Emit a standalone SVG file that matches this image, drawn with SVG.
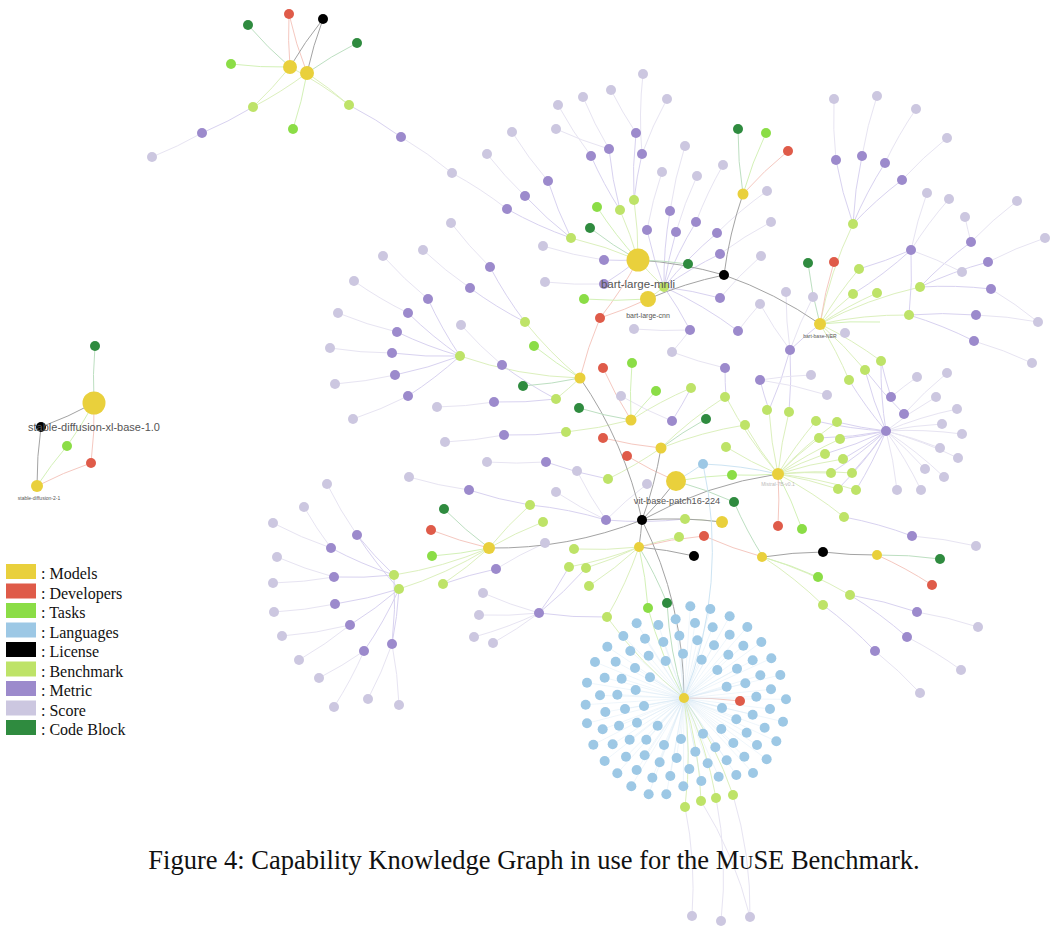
<svg xmlns="http://www.w3.org/2000/svg" width="1050" height="928" viewBox="0 0 1050 928">
<style>
.M{fill:#E9D03C}.D{fill:#DF5B49}.T{fill:#8BDD46}.G{fill:#9DC8E5}.L{fill:#000}.B{fill:#BEE368}.E{fill:#9C8ACC}.S{fill:#CCC7E0}.C{fill:#2F8B3F}
.e path{fill:none;stroke-width:1}
.eb{stroke:#dcf0bd}.em{stroke:#d8d2f0}.es{stroke:#e7e4f2}.ed{stroke:#f5c8c0}.el{stroke:#a3a3a3}.ec{stroke:#bddfc1}.et{stroke:#d3f1b7}.eg{stroke:#cde4f3}
.lbl{font-family:"Liberation Sans",Arial,sans-serif;fill:#555;text-anchor:middle}
.leg{font-family:"Liberation Serif","Times New Roman",serif;font-size:16px;fill:#111}
.cap{font-family:"Liberation Serif","Times New Roman",serif;font-size:26.5px;fill:#111}
</style>
<rect width="1050" height="928" fill="#fff"/>
<g id="connectors" class="e">
<path class="eb" d="M290 67A400 400 0 0 1 253 107M307 73A400 400 0 0 1 253 107M290 67A400 400 0 0 1 349 105M307 73A400 400 0 0 1 349 105M571 238A400 400 0 0 1 638 260M620 210A400 400 0 0 1 638 260M634 200A400 400 0 0 1 638 260M664 287A400 400 0 0 1 638 260M664 287A400 400 0 0 1 648 299M820 324A400 400 0 0 1 853 224M820 324A400 400 0 0 1 859 269M820 324A400 400 0 0 1 853 294M820 324A400 400 0 0 1 877 293M820 324A400 400 0 0 1 920 287M820 324A400 400 0 0 1 909 315M820 324A400 400 0 0 1 881 361M820 324A400 400 0 0 1 865 370M820 324A400 400 0 0 1 849 380M580 378A400 400 0 0 1 460 356M580 378A400 400 0 0 1 525 322M580 378A400 400 0 0 1 556 399M631 420A400 400 0 0 1 566 432M631 420A400 400 0 0 1 691 388M661 448A400 400 0 0 1 608 479M661 448A400 400 0 0 1 745 425M661 448A400 400 0 0 1 725 397M778 474A400 400 0 0 1 816 421M778 474A400 400 0 0 1 837 422M778 474A400 400 0 0 1 819 438M778 474A400 400 0 0 1 840 439M778 474A400 400 0 0 1 825 454M778 474A400 400 0 0 1 843 459M778 474A400 400 0 0 1 831 473M778 474A400 400 0 0 1 852 473M778 474A400 400 0 0 1 838 489M778 474A400 400 0 0 1 856 490M778 474A400 400 0 0 1 844 517M778 474A400 400 0 0 1 726 397M778 474A400 400 0 0 1 769 410M778 474A400 400 0 0 1 789 412M778 474A400 400 0 0 1 745 425M778 474A400 400 0 0 1 726 447M685 519A400 400 0 0 1 722 522M639 547A400 400 0 0 1 679 537M639 547A400 400 0 0 1 574 549M639 547A400 400 0 0 1 569 567M639 547A400 400 0 0 1 586 568M639 547A400 400 0 0 1 589 586M639 547A400 400 0 0 1 607 617M489 548A400 400 0 0 1 443 584M489 548A400 400 0 0 1 394 575M489 548A400 400 0 0 1 399 589M489 548A400 400 0 0 1 543 522M489 548A400 400 0 0 1 530 505M763 557A400 400 0 0 1 850 595M763 557A400 400 0 0 1 823 605M684 698A400 400 0 0 1 685 807M684 698A400 400 0 0 1 701 801M684 698A400 400 0 0 1 716 798M684 698A400 400 0 0 1 733 795M684 698A400 400 0 0 1 607 617"/>
<path class="em" d="M253 107A400 400 0 0 1 202 133M349 105A400 400 0 0 1 401 137M571 238A400 400 0 0 1 548 181M571 238A400 400 0 0 1 525 196M571 238A400 400 0 0 1 507 209M620 210A400 400 0 0 1 591 156M620 210A400 400 0 0 1 609 149M634 200A400 400 0 0 1 636 133M634 200A400 400 0 0 1 642 154M638 260A400 400 0 0 1 604 260M638 260A400 400 0 0 1 604 284M664 287A400 400 0 0 1 670 211M664 287A400 400 0 0 1 647 230M664 287A400 400 0 0 1 676 232M664 287A400 400 0 0 1 696 222M664 287A400 400 0 0 1 717 233M664 287A400 400 0 0 1 720 254M664 287A400 400 0 0 1 720 298M664 287A400 400 0 0 1 690 330M664 287A400 400 0 0 1 738 331M853 224A400 400 0 0 1 836 160M853 224A400 400 0 0 1 862 156M853 224A400 400 0 0 1 885 163M853 224A400 400 0 0 1 902 180M911 250A400 400 0 0 1 859 269M911 250A400 400 0 0 1 853 294M911 250A400 400 0 0 1 909 315M920 287A400 400 0 0 1 971 242M920 287A400 400 0 0 1 988 262M920 287A400 400 0 0 1 991 289M909 315A400 400 0 0 1 976 315M909 315A400 400 0 0 1 974 341M790 350A400 400 0 0 1 820 324M790 350A400 400 0 0 1 769 410M790 350A400 400 0 0 1 789 412M460 356A400 400 0 0 1 428 299M460 356A400 400 0 0 1 408 313M460 356A400 400 0 0 1 397 332M460 356A400 400 0 0 1 392 353M460 356A400 400 0 0 1 395 375M460 356A400 400 0 0 1 408 396M525 322A400 400 0 0 1 490 267M525 322A400 400 0 0 1 470 288M556 399A400 400 0 0 1 502 365M556 399A400 400 0 0 1 494 402M566 432A400 400 0 0 1 504 435M608 479A400 400 0 0 1 546 462M530 505A400 400 0 0 1 469 490M530 505A400 400 0 0 1 606 520M685 519A400 400 0 0 1 606 520M691 388A400 400 0 0 1 672 421M726 397A400 400 0 0 1 725 368M769 410A400 400 0 0 1 760 380M886 431A400 400 0 0 1 816 421M886 431A400 400 0 0 1 837 422M886 431A400 400 0 0 1 819 438M886 431A400 400 0 0 1 840 439M886 431A400 400 0 0 1 825 454M886 431A400 400 0 0 1 843 459M886 431A400 400 0 0 1 831 473M886 431A400 400 0 0 1 852 473M886 431A400 400 0 0 1 838 489M886 431A400 400 0 0 1 856 490M886 431A400 400 0 0 1 881 361M886 431A400 400 0 0 1 865 370M886 431A400 400 0 0 1 849 380M891 397A400 400 0 0 1 881 361M904 414A400 400 0 0 1 865 370M844 517A400 400 0 0 1 912 536M850 595A400 400 0 0 1 917 612M850 595A400 400 0 0 1 907 637M823 605A400 400 0 0 1 875 651M394 575A400 400 0 0 1 357 535M394 575A400 400 0 0 1 331 548M394 575A400 400 0 0 1 334 577M399 589A400 400 0 0 1 335 604M399 589A400 400 0 0 1 350 625M399 589A400 400 0 0 1 392 644M399 589A400 400 0 0 1 364 651M399 589A400 400 0 0 1 357 535M394 575A400 400 0 0 1 392 644M443 584A400 400 0 0 1 496 569M569 567A400 400 0 0 1 539 613M586 568A400 400 0 0 1 539 613M607 617A400 400 0 0 1 539 613"/>
<path class="es" d="M202 133A400 400 0 0 1 152 157M401 137A400 400 0 0 1 452 173M452 173A400 400 0 0 1 507 209M525 196A400 400 0 0 1 487 154M548 181A400 400 0 0 1 512 132M591 156A400 400 0 0 1 558 105M609 149A400 400 0 0 1 583 97M609 149A400 400 0 0 1 556 129M636 133A400 400 0 0 1 611 90M642 154A400 400 0 0 1 643 74M642 154A400 400 0 0 1 667 99M604 260A400 400 0 0 1 543 246M604 284A400 400 0 0 1 545 282M670 211A400 400 0 0 1 685 146M647 230A400 400 0 0 1 662 172M676 232A400 400 0 0 1 697 176M696 222A400 400 0 0 1 723 165M717 233A400 400 0 0 1 767 191M720 254A400 400 0 0 1 771 222M720 298A400 400 0 0 1 761 256M690 330A400 400 0 0 1 634 329M738 331A400 400 0 0 1 760 304M690 330A400 400 0 0 1 672 352M836 160A400 400 0 0 1 834 99M862 156A400 400 0 0 1 877 96M885 163A400 400 0 0 1 916 109M902 180A400 400 0 0 1 947 138M911 250A400 400 0 0 1 927 193M911 250A400 400 0 0 1 949 199M911 250A400 400 0 0 1 962 272M971 242A400 400 0 0 1 1017 201M971 242A400 400 0 0 1 965 217M988 262A400 400 0 0 1 1045 238M991 289A400 400 0 0 1 1038 322M974 341A400 400 0 0 1 1032 363M976 315A400 400 0 0 1 1038 322M790 350A400 400 0 0 1 786 292M790 350A400 400 0 0 1 760 304M790 350A400 400 0 0 1 813 297M428 299A400 400 0 0 1 383 256M408 313A400 400 0 0 1 354 281M397 332A400 400 0 0 1 338 313M392 353A400 400 0 0 1 330 348M395 375A400 400 0 0 1 335 384M408 396A400 400 0 0 1 353 419M490 267A400 400 0 0 1 451 223M470 288A400 400 0 0 1 423 250M502 365A400 400 0 0 1 461 325M494 402A400 400 0 0 1 437 407M504 435A400 400 0 0 1 445 442M546 462A400 400 0 0 1 487 462M469 490A400 400 0 0 1 409 477M606 520A400 400 0 0 1 556 492M606 520A400 400 0 0 1 577 471M496 569A400 400 0 0 1 545 543M760 380A400 400 0 0 1 811 375M760 380A400 400 0 0 1 827 395M886 431A400 400 0 0 1 936 397M886 431A400 400 0 0 1 957 409M886 431A400 400 0 0 1 942 424M886 431A400 400 0 0 1 962 434M886 431A400 400 0 0 1 940 448M886 431A400 400 0 0 1 958 458M886 431A400 400 0 0 1 925 469M886 431A400 400 0 0 1 944 477M886 431A400 400 0 0 1 897 490M886 431A400 400 0 0 1 921 490M891 397A400 400 0 0 1 917 377M904 414A400 400 0 0 1 947 373M912 536A400 400 0 0 1 976 546M917 612A400 400 0 0 1 978 627M907 637A400 400 0 0 1 961 670M875 651A400 400 0 0 1 920 693M357 535A400 400 0 0 1 327 484M331 548A400 400 0 0 1 304 507M331 548A400 400 0 0 1 273 523M334 577A400 400 0 0 1 277 557M334 577A400 400 0 0 1 273 583M335 604A400 400 0 0 1 274 612M350 625A400 400 0 0 1 282 636M350 625A400 400 0 0 1 299 660M364 651A400 400 0 0 1 319 678M364 651A400 400 0 0 1 334 707M392 644A400 400 0 0 1 368 699M392 644A400 400 0 0 1 399 705M539 613A400 400 0 0 1 483 593M539 613A400 400 0 0 1 479 615M539 613A400 400 0 0 1 474 637M539 613A400 400 0 0 1 493 643M685 807A400 400 0 0 1 692 916M716 798A400 400 0 0 1 721 921M733 795A400 400 0 0 1 750 917M701 801A400 400 0 0 1 750 917M606 520A400 400 0 0 1 647 484M672 421A400 400 0 0 1 621 396M725 368A400 400 0 0 1 672 352"/>
<path class="ed" d="M290 67A400 400 0 0 1 289 14M307 73A400 400 0 0 1 289 14M94 403A400 400 0 0 1 91 463M37 486A400 400 0 0 1 91 463M743 194A400 400 0 0 1 788 151M820 324A400 400 0 0 1 834 262M638 260A400 400 0 0 1 600 318M648 299A400 400 0 0 1 600 318M580 378A400 400 0 0 1 600 318M631 420A400 400 0 0 1 603 368M661 448A400 400 0 0 1 603 438M676 481A400 400 0 0 1 627 456M489 548A400 400 0 0 1 431 530M639 547A400 400 0 0 1 704 536M763 557A400 400 0 0 1 704 536M778 474A400 400 0 0 1 778 526M877 555A400 400 0 0 1 932 585M684 698A400 400 0 0 1 740 701"/>
<path class="el" d="M290 67A400 400 0 0 1 323 19M307 73A400 400 0 0 1 323 19M94 403A400 400 0 0 1 41 427M37 486A400 400 0 0 1 41 427M638 260A400 400 0 0 1 724 275M648 299A400 400 0 0 1 724 275M724 275A400 400 0 0 1 743 194M724 275A400 400 0 0 1 820 324M580 378A400 400 0 0 1 642 520M661 448A400 400 0 0 1 642 520M676 481A400 400 0 0 1 642 520M642 520A400 400 0 0 1 489 548M642 520A400 400 0 0 1 778 474M642 520A400 400 0 0 1 684 698M639 547A400 400 0 0 1 694 556M763 557A400 400 0 0 1 823 552M877 555A400 400 0 0 1 823 552M642 520A400 400 0 0 1 722 522M642 520A400 400 0 0 1 639 547"/>
<path class="ec" d="M290 67A400 400 0 0 1 248 25M307 73A400 400 0 0 1 357 43M94 403A400 400 0 0 1 95 346M743 194A400 400 0 0 1 738 129M638 260A400 400 0 0 1 590 228M638 260A400 400 0 0 1 688 264M820 324A400 400 0 0 1 808 263M580 378A400 400 0 0 1 523 386M631 420A400 400 0 0 1 579 408M661 448A400 400 0 0 1 706 419M676 481A400 400 0 0 1 734 502M763 557A400 400 0 0 1 734 502M489 548A400 400 0 0 1 444 509M639 547A400 400 0 0 1 667 603M877 555A400 400 0 0 1 940 559M684 698A400 400 0 0 1 667 603"/>
<path class="et" d="M290 67A400 400 0 0 1 231 64M307 73A400 400 0 0 1 293 129M94 403A400 400 0 0 1 67 446M37 486A400 400 0 0 1 67 446M743 194A400 400 0 0 1 766 133M638 260A400 400 0 0 1 597 207M648 299A400 400 0 0 1 584 299M820 324A400 400 0 0 1 880 322M580 378A400 400 0 0 1 534 346M631 420A400 400 0 0 1 632 363M631 420A400 400 0 0 1 656 391M676 481A400 400 0 0 1 732 475M778 474A400 400 0 0 1 732 475M489 548A400 400 0 0 1 432 556M778 474A400 400 0 0 1 802 529M763 557A400 400 0 0 1 818 577M639 547A400 400 0 0 1 648 608M684 698A400 400 0 0 1 648 608"/>
<path class="eg" d="M703 464A400 400 0 0 1 778 474M703 464A400 400 0 0 1 676 481M703 464A400 400 0 0 1 684 698"/>
<g transform="translate(560 590) scale(0.33333)"><path class="eg" stroke-width="3" d="M372 325L391 49M372 325L451 57M372 325L509 79M372 325L230 100M372 325L295 105M372 325L347 88M372 325L405 99M372 325L458 112M372 325L562 111M372 325L190 138M372 325L255 146M372 325L310 156M372 325L358 137M372 325L412 151M372 325L462 166M372 325L509 134M372 325L550 167M372 325L604 156M372 325L142 170M372 325L211 183M372 325L266 197M372 325L317 213M372 325L369 191M372 325L425 209M372 325L472 240M372 325L505 194M372 325L531 236M372 325L578 211M372 325L634 205M372 325L105 216M372 325L167 215M372 325L225 234M372 325L270 262M372 325L500 290M372 325L556 280M372 325L601 256M372 325L661 255M372 325L81 278M372 325L134 263M372 325L185 266M372 325L227 300M372 325L633 298M372 325L120 316M372 325L172 314M372 325L252 348M372 325L486 354M372 325L589 320M372 325L678 328M372 325L77 344M372 325L136 366M372 325L195 357M372 325L578 374M372 325L630 357M372 325L529 388M372 325L81 400M372 325L128 418M372 325L177 407M372 325L231 398M372 325L293 407M372 325L484 417M372 325L560 428M372 325L614 413M372 325L669 395M372 325L100 464M372 325L158 463M372 325L209 449M372 325L259 449M372 325L363 447M372 325L429 431M372 325L520 459M372 325L591 465M372 325L649 454M372 325L134 513M372 325L198 500M372 325L254 496M372 325L312 465M372 325L350 504M372 325L406 485M372 325L466 472M372 325L500 511M372 325L553 500M372 325L620 508M372 325L172 550M372 325L230 540M372 325L277 563M372 325L299 517M372 325L331 558M372 325L388 537M372 325L443 520M372 325L476 560M372 325L529 555M372 325L579 549M372 325L214 589M372 325L266 613M372 325L319 613M372 325L370 589M372 325L424 573"/></g>
</g>
<g id="nodes">
<g id="scores">
<circle id="s1" class="S" cx="152" cy="157" r="5"/><circle id="s2" class="S" cx="452" cy="173" r="5"/><circle id="s3" class="S" cx="487" cy="154" r="5"/><circle id="s4" class="S" cx="512" cy="132" r="5"/><circle id="s5" class="S" cx="451" cy="223" r="5"/><circle id="s6" class="S" cx="423" cy="250" r="5"/><circle id="s7" class="S" cx="383" cy="256" r="5"/><circle id="s8" class="S" cx="354" cy="281" r="5"/><circle id="s9" class="S" cx="338" cy="313" r="5"/><circle id="s10" class="S" cx="330" cy="348" r="5"/><circle id="s11" class="S" cx="335" cy="384" r="5"/><circle id="s12" class="S" cx="353" cy="419" r="5"/><circle id="s13" class="S" cx="461" cy="325" r="5"/><circle id="s14" class="S" cx="543" cy="246" r="5"/><circle id="s15" class="S" cx="545" cy="282" r="5"/><circle id="s16" class="S" cx="556" cy="129" r="5"/><circle id="s17" class="S" cx="558" cy="105" r="5"/><circle id="s18" class="S" cx="583" cy="97" r="5"/><circle id="s19" class="S" cx="611" cy="90" r="5"/><circle id="s20" class="S" cx="643" cy="74" r="5"/><circle id="s21" class="S" cx="667" cy="99" r="5"/><circle id="s22" class="S" cx="685" cy="146" r="5"/><circle id="s23" class="S" cx="662" cy="172" r="5"/><circle id="s24" class="S" cx="697" cy="176" r="5"/><circle id="s25" class="S" cx="723" cy="165" r="5"/><circle id="s26" class="S" cx="767" cy="191" r="5"/><circle id="s27" class="S" cx="771" cy="222" r="5"/><circle id="s28" class="S" cx="761" cy="256" r="5"/><circle id="s29" class="S" cx="786" cy="292" r="5"/><circle id="s30" class="S" cx="760" cy="304" r="5"/><circle id="s31" class="S" cx="813" cy="297" r="5"/><circle id="s32" class="S" cx="845" cy="333" r="5"/><circle id="s33" class="S" cx="634" cy="329" r="5"/><circle id="s34" class="S" cx="672" cy="352" r="5"/><circle id="s35" class="S" cx="437" cy="407" r="5"/><circle id="s36" class="S" cx="445" cy="442" r="5"/><circle id="s37" class="S" cx="487" cy="462" r="5"/><circle id="s38" class="S" cx="409" cy="477" r="5"/><circle id="s39" class="S" cx="556" cy="492" r="5"/><circle id="s40" class="S" cx="577" cy="471" r="5"/><circle id="s41" class="S" cx="621" cy="396" r="5"/><circle id="s42" class="S" cx="647" cy="484" r="5"/><circle id="s43" class="S" cx="545" cy="543" r="5"/><circle id="s44" class="S" cx="834" cy="99" r="5"/><circle id="s45" class="S" cx="877" cy="96" r="5"/><circle id="s46" class="S" cx="916" cy="109" r="5"/><circle id="s47" class="S" cx="947" cy="138" r="5"/><circle id="s48" class="S" cx="927" cy="193" r="5"/><circle id="s49" class="S" cx="949" cy="199" r="5"/><circle id="s50" class="S" cx="965" cy="217" r="5"/><circle id="s51" class="S" cx="1017" cy="201" r="5"/><circle id="s52" class="S" cx="1045" cy="238" r="5"/><circle id="s53" class="S" cx="962" cy="272" r="5"/><circle id="s54" class="S" cx="1038" cy="322" r="5"/><circle id="s55" class="S" cx="1032" cy="363" r="5"/><circle id="s56" class="S" cx="811" cy="375" r="5"/><circle id="s57" class="S" cx="827" cy="395" r="5"/><circle id="s58" class="S" cx="917" cy="377" r="5"/><circle id="s59" class="S" cx="947" cy="373" r="5"/><circle id="s60" class="S" cx="936" cy="397" r="5"/><circle id="s61" class="S" cx="957" cy="409" r="5"/><circle id="s62" class="S" cx="942" cy="424" r="5"/><circle id="s63" class="S" cx="962" cy="434" r="5"/><circle id="s64" class="S" cx="940" cy="448" r="5"/><circle id="s65" class="S" cx="958" cy="458" r="5"/><circle id="s66" class="S" cx="925" cy="469" r="5"/><circle id="s67" class="S" cx="944" cy="477" r="5"/><circle id="s68" class="S" cx="897" cy="490" r="5"/><circle id="s69" class="S" cx="921" cy="490" r="5"/><circle id="s70" class="S" cx="976" cy="546" r="5"/><circle id="s71" class="S" cx="978" cy="627" r="5"/><circle id="s72" class="S" cx="961" cy="670" r="5"/><circle id="s73" class="S" cx="920" cy="693" r="5"/><circle id="s74" class="S" cx="327" cy="484" r="5"/><circle id="s75" class="S" cx="304" cy="507" r="5"/><circle id="s76" class="S" cx="273" cy="523" r="5"/><circle id="s77" class="S" cx="277" cy="557" r="5"/><circle id="s78" class="S" cx="273" cy="583" r="5"/><circle id="s79" class="S" cx="274" cy="612" r="5"/><circle id="s80" class="S" cx="282" cy="636" r="5"/><circle id="s81" class="S" cx="299" cy="660" r="5"/><circle id="s82" class="S" cx="319" cy="678" r="5"/><circle id="s83" class="S" cx="334" cy="707" r="5"/><circle id="s84" class="S" cx="368" cy="699" r="5"/><circle id="s85" class="S" cx="399" cy="705" r="5"/><circle id="s86" class="S" cx="483" cy="593" r="5"/><circle id="s87" class="S" cx="479" cy="615" r="5"/><circle id="s88" class="S" cx="474" cy="637" r="5"/><circle id="s89" class="S" cx="493" cy="643" r="5"/><circle id="s90" class="S" cx="692" cy="916" r="5"/><circle id="s91" class="S" cx="721" cy="921" r="5"/><circle id="s92" class="S" cx="750" cy="917" r="5"/>
</g>
<g id="metrics">
<circle id="m1" class="E" cx="202" cy="133" r="5"/><circle id="m2" class="E" cx="401" cy="137" r="5"/><circle id="m3" class="E" cx="507" cy="209" r="5"/><circle id="m4" class="E" cx="525" cy="196" r="5"/><circle id="m5" class="E" cx="548" cy="181" r="5"/><circle id="m6" class="E" cx="591" cy="156" r="5"/><circle id="m7" class="E" cx="609" cy="149" r="5"/><circle id="m8" class="E" cx="636" cy="133" r="5"/><circle id="m9" class="E" cx="642" cy="154" r="5"/><circle id="m10" class="E" cx="490" cy="267" r="5"/><circle id="m11" class="E" cx="470" cy="288" r="5"/><circle id="m12" class="E" cx="428" cy="299" r="5"/><circle id="m13" class="E" cx="408" cy="313" r="5"/><circle id="m14" class="E" cx="397" cy="332" r="5"/><circle id="m15" class="E" cx="392" cy="353" r="5"/><circle id="m16" class="E" cx="395" cy="375" r="5"/><circle id="m17" class="E" cx="408" cy="396" r="5"/><circle id="m18" class="E" cx="604" cy="260" r="5"/><circle id="m19" class="E" cx="604" cy="284" r="5"/><circle id="m20" class="E" cx="670" cy="211" r="5"/><circle id="m21" class="E" cx="647" cy="230" r="5"/><circle id="m22" class="E" cx="676" cy="232" r="5"/><circle id="m23" class="E" cx="696" cy="222" r="5"/><circle id="m24" class="E" cx="717" cy="233" r="5"/><circle id="m25" class="E" cx="720" cy="254" r="5"/><circle id="m26" class="E" cx="690" cy="330" r="5"/><circle id="m27" class="E" cx="738" cy="331" r="5"/><circle id="m28" class="E" cx="720" cy="298" r="5"/><circle id="m29" class="E" cx="725" cy="368" r="5"/><circle id="m30" class="E" cx="760" cy="380" r="5"/><circle id="m31" class="E" cx="502" cy="365" r="5"/><circle id="m32" class="E" cx="494" cy="402" r="5"/><circle id="m33" class="E" cx="504" cy="435" r="5"/><circle id="m34" class="E" cx="546" cy="462" r="5"/><circle id="m35" class="E" cx="469" cy="490" r="5"/><circle id="m36" class="E" cx="606" cy="520" r="5"/><circle id="m37" class="E" cx="672" cy="421" r="5"/><circle id="m38" class="E" cx="836" cy="160" r="5"/><circle id="m39" class="E" cx="862" cy="156" r="5"/><circle id="m40" class="E" cx="885" cy="163" r="5"/><circle id="m41" class="E" cx="902" cy="180" r="5"/><circle id="m42" class="E" cx="911" cy="250" r="5"/><circle id="m43" class="E" cx="971" cy="242" r="5"/><circle id="m44" class="E" cx="988" cy="262" r="5"/><circle id="m45" class="E" cx="991" cy="289" r="5"/><circle id="m46" class="E" cx="976" cy="315" r="5"/><circle id="m47" class="E" cx="974" cy="341" r="5"/><circle id="m48" class="E" cx="790" cy="350" r="5"/><circle id="m49" class="E" cx="886" cy="431" r="5"/><circle id="m50" class="E" cx="891" cy="397" r="5"/><circle id="m51" class="E" cx="904" cy="414" r="5"/><circle id="m52" class="E" cx="912" cy="536" r="5"/><circle id="m53" class="E" cx="917" cy="612" r="5"/><circle id="m54" class="E" cx="907" cy="637" r="5"/><circle id="m55" class="E" cx="875" cy="651" r="5"/><circle id="m56" class="E" cx="357" cy="535" r="5"/><circle id="m57" class="E" cx="331" cy="548" r="5"/><circle id="m58" class="E" cx="334" cy="577" r="5"/><circle id="m59" class="E" cx="335" cy="604" r="5"/><circle id="m60" class="E" cx="350" cy="625" r="5"/><circle id="m61" class="E" cx="392" cy="644" r="5"/><circle id="m62" class="E" cx="364" cy="651" r="5"/><circle id="m63" class="E" cx="496" cy="569" r="5"/><circle id="m64" class="E" cx="539" cy="613" r="5"/>
</g>
<g id="benchmarks">
<circle id="b1" class="B" cx="253" cy="107" r="5"/><circle id="b2" class="B" cx="349" cy="105" r="5"/><circle id="b3" class="B" cx="571" cy="238" r="5"/><circle id="b4" class="B" cx="620" cy="210" r="5"/><circle id="b5" class="B" cx="634" cy="200" r="5"/><circle id="b6" class="B" cx="664" cy="287" r="5"/><circle id="b7" class="B" cx="525" cy="322" r="5"/><circle id="b8" class="B" cx="460" cy="356" r="5"/><circle id="b9" class="B" cx="556" cy="399" r="5"/><circle id="b10" class="B" cx="566" cy="432" r="5"/><circle id="b11" class="B" cx="691" cy="388" r="5"/><circle id="b12" class="B" cx="725" cy="397" r="5"/><circle id="b13" class="B" cx="745" cy="425" r="5"/><circle id="b14" class="B" cx="767" cy="410" r="5"/><circle id="b15" class="B" cx="789" cy="412" r="5"/><circle id="b16" class="B" cx="726" cy="447" r="5"/><circle id="b17" class="B" cx="608" cy="479" r="5"/><circle id="b18" class="B" cx="530" cy="505" r="5"/><circle id="b19" class="B" cx="543" cy="522" r="5"/><circle id="b20" class="B" cx="685" cy="519" r="5"/><circle id="b21" class="B" cx="679" cy="537" r="5"/><circle id="b22" class="B" cx="574" cy="549" r="5"/><circle id="b23" class="B" cx="569" cy="567" r="5"/><circle id="b24" class="B" cx="586" cy="568" r="5"/><circle id="b25" class="B" cx="589" cy="586" r="5"/><circle id="b26" class="B" cx="607" cy="617" r="5"/><circle id="b27" class="B" cx="394" cy="575" r="5"/><circle id="b28" class="B" cx="399" cy="589" r="5"/><circle id="b29" class="B" cx="443" cy="584" r="5"/><circle id="b30" class="B" cx="853" cy="224" r="5"/><circle id="b31" class="B" cx="859" cy="269" r="5"/><circle id="b32" class="B" cx="853" cy="294" r="5"/><circle id="b33" class="B" cx="877" cy="293" r="5"/><circle id="b34" class="B" cx="920" cy="287" r="5"/><circle id="b35" class="B" cx="909" cy="315" r="5"/><circle id="b36" class="B" cx="881" cy="361" r="5"/><circle id="b37" class="B" cx="865" cy="370" r="5"/><circle id="b38" class="B" cx="849" cy="380" r="5"/><circle id="b39" class="B" cx="816" cy="421" r="5"/><circle id="b40" class="B" cx="837" cy="422" r="5"/><circle id="b41" class="B" cx="819" cy="438" r="5"/><circle id="b42" class="B" cx="840" cy="439" r="5"/><circle id="b43" class="B" cx="825" cy="454" r="5"/><circle id="b44" class="B" cx="843" cy="459" r="5"/><circle id="b45" class="B" cx="831" cy="473" r="5"/><circle id="b46" class="B" cx="852" cy="473" r="5"/><circle id="b47" class="B" cx="838" cy="489" r="5"/><circle id="b48" class="B" cx="856" cy="490" r="5"/><circle id="b49" class="B" cx="844" cy="517" r="5"/><circle id="b50" class="B" cx="850" cy="595" r="5"/><circle id="b51" class="B" cx="823" cy="605" r="5"/><circle id="b52" class="B" cx="685" cy="807" r="5"/><circle id="b53" class="B" cx="701" cy="801" r="5"/><circle id="b54" class="B" cx="716" cy="798" r="5"/><circle id="b55" class="B" cx="733" cy="795" r="5"/>
</g>
<g id="codeblocks">
<circle id="c1" class="C" cx="248" cy="25" r="5"/><circle id="c2" class="C" cx="357" cy="43" r="5"/><circle id="c3" class="C" cx="95" cy="346" r="5"/><circle id="c4" class="C" cx="738" cy="129" r="5"/><circle id="c5" class="C" cx="590" cy="228" r="5"/><circle id="c6" class="C" cx="688" cy="264" r="5"/><circle id="c7" class="C" cx="808" cy="263" r="5"/><circle id="c8" class="C" cx="523" cy="386" r="5"/><circle id="c9" class="C" cx="579" cy="408" r="5"/><circle id="c10" class="C" cx="706" cy="419" r="5"/><circle id="c11" class="C" cx="734" cy="502" r="5"/><circle id="c12" class="C" cx="444" cy="509" r="5"/><circle id="c13" class="C" cx="667" cy="603" r="5"/><circle id="c14" class="C" cx="940" cy="559" r="5"/>
</g>
<g id="tasks">
<circle id="t1" class="T" cx="231" cy="64" r="5"/><circle id="t2" class="T" cx="293" cy="129" r="5"/><circle id="t3" class="T" cx="67" cy="446" r="5"/><circle id="t4" class="T" cx="766" cy="133" r="5"/><circle id="t5" class="T" cx="597" cy="207" r="5"/><circle id="t6" class="T" cx="584" cy="299" r="5"/><circle id="t7" class="T" cx="534" cy="346" r="5"/><circle id="t8" class="T" cx="632" cy="363" r="5"/><circle id="t9" class="T" cx="656" cy="391" r="5"/><circle id="t10" class="T" cx="732" cy="475" r="5"/><circle id="t11" class="T" cx="432" cy="556" r="5"/><circle id="t12" class="T" cx="802" cy="529" r="5"/><circle id="t13" class="T" cx="818" cy="577" r="5"/><circle id="t14" class="T" cx="648" cy="608" r="5"/>
</g>
<g id="developers">
<circle id="d1" class="D" cx="289" cy="14" r="5"/><circle id="d2" class="D" cx="91" cy="463" r="5"/><circle id="d3" class="D" cx="788" cy="151" r="5"/><circle id="d4" class="D" cx="834" cy="262" r="5"/><circle id="d5" class="D" cx="600" cy="318" r="5"/><circle id="d6" class="D" cx="603" cy="368" r="5"/><circle id="d7" class="D" cx="603" cy="438" r="5"/><circle id="d8" class="D" cx="627" cy="456" r="5"/><circle id="d9" class="D" cx="431" cy="530" r="5"/><circle id="d10" class="D" cx="704" cy="536" r="5"/><circle id="d11" class="D" cx="778" cy="526" r="5"/><circle id="d12" class="D" cx="932" cy="585" r="5"/><circle id="d13" class="D" cx="740" cy="701" r="5"/>
</g>
<g id="licenses">
<circle id="l1" class="L" cx="323" cy="19" r="5"/><circle id="l2" class="L" cx="41" cy="427" r="5"/><circle id="l3" class="L" cx="724" cy="275" r="5"/><circle id="l4" class="L" cx="642" cy="520" r="5"/><circle id="l5" class="L" cx="694" cy="556" r="5"/><circle id="l6" class="L" cx="823" cy="552" r="5"/>
</g>
<g id="languages">
<circle id="g0" class="G" cx="703" cy="464" r="5"/>
<g transform="translate(560 590) scale(0.33333)">
<circle class="G" cx="391" cy="49" r="15"/><circle class="G" cx="451" cy="57" r="15"/><circle class="G" cx="509" cy="79" r="15"/><circle class="G" cx="230" cy="100" r="15"/><circle class="G" cx="295" cy="105" r="15"/><circle class="G" cx="347" cy="88" r="15"/><circle class="G" cx="405" cy="99" r="15"/><circle class="G" cx="458" cy="112" r="15"/><circle class="G" cx="562" cy="111" r="15"/><circle class="G" cx="190" cy="138" r="15"/><circle class="G" cx="255" cy="146" r="15"/><circle class="G" cx="310" cy="156" r="15"/><circle class="G" cx="358" cy="137" r="15"/><circle class="G" cx="412" cy="151" r="15"/><circle class="G" cx="462" cy="166" r="15"/><circle class="G" cx="509" cy="134" r="15"/><circle class="G" cx="550" cy="167" r="15"/><circle class="G" cx="604" cy="156" r="15"/><circle class="G" cx="142" cy="170" r="15"/><circle class="G" cx="211" cy="183" r="15"/><circle class="G" cx="266" cy="197" r="15"/><circle class="G" cx="317" cy="213" r="15"/><circle class="G" cx="369" cy="191" r="15"/><circle class="G" cx="425" cy="209" r="15"/><circle class="G" cx="472" cy="240" r="15"/><circle class="G" cx="505" cy="194" r="15"/><circle class="G" cx="531" cy="236" r="15"/><circle class="G" cx="578" cy="211" r="15"/><circle class="G" cx="634" cy="205" r="15"/><circle class="G" cx="105" cy="216" r="15"/><circle class="G" cx="167" cy="215" r="15"/><circle class="G" cx="225" cy="234" r="15"/><circle class="G" cx="270" cy="262" r="15"/><circle class="G" cx="500" cy="290" r="15"/><circle class="G" cx="556" cy="280" r="15"/><circle class="G" cx="601" cy="256" r="15"/><circle class="G" cx="661" cy="255" r="15"/><circle class="G" cx="81" cy="278" r="15"/><circle class="G" cx="134" cy="263" r="15"/><circle class="G" cx="185" cy="266" r="15"/><circle class="G" cx="227" cy="300" r="15"/><circle class="G" cx="633" cy="298" r="15"/><circle class="G" cx="120" cy="316" r="15"/><circle class="G" cx="172" cy="314" r="15"/><circle class="G" cx="252" cy="348" r="15"/><circle class="G" cx="486" cy="354" r="15"/><circle class="G" cx="589" cy="320" r="15"/><circle class="G" cx="678" cy="328" r="15"/><circle class="G" cx="77" cy="344" r="15"/><circle class="G" cx="136" cy="366" r="15"/><circle class="G" cx="195" cy="357" r="15"/><circle class="G" cx="578" cy="374" r="15"/><circle class="G" cx="630" cy="357" r="15"/><circle class="G" cx="529" cy="388" r="15"/><circle class="G" cx="81" cy="400" r="15"/><circle class="G" cx="128" cy="418" r="15"/><circle class="G" cx="177" cy="407" r="15"/><circle class="G" cx="231" cy="398" r="15"/><circle class="G" cx="293" cy="407" r="15"/><circle class="G" cx="484" cy="417" r="15"/><circle class="G" cx="560" cy="428" r="15"/><circle class="G" cx="614" cy="413" r="15"/><circle class="G" cx="669" cy="395" r="15"/><circle class="G" cx="100" cy="464" r="15"/><circle class="G" cx="158" cy="463" r="15"/><circle class="G" cx="209" cy="449" r="15"/><circle class="G" cx="259" cy="449" r="15"/><circle class="G" cx="363" cy="447" r="15"/><circle class="G" cx="429" cy="431" r="15"/><circle class="G" cx="520" cy="459" r="15"/><circle class="G" cx="591" cy="465" r="15"/><circle class="G" cx="649" cy="454" r="15"/><circle class="G" cx="134" cy="513" r="15"/><circle class="G" cx="198" cy="500" r="15"/><circle class="G" cx="254" cy="496" r="15"/><circle class="G" cx="312" cy="465" r="15"/><circle class="G" cx="350" cy="504" r="15"/><circle class="G" cx="406" cy="485" r="15"/><circle class="G" cx="466" cy="472" r="15"/><circle class="G" cx="500" cy="511" r="15"/><circle class="G" cx="553" cy="500" r="15"/><circle class="G" cx="620" cy="508" r="15"/><circle class="G" cx="172" cy="550" r="15"/><circle class="G" cx="230" cy="540" r="15"/><circle class="G" cx="277" cy="563" r="15"/><circle class="G" cx="299" cy="517" r="15"/><circle class="G" cx="331" cy="558" r="15"/><circle class="G" cx="388" cy="537" r="15"/><circle class="G" cx="443" cy="520" r="15"/><circle class="G" cx="476" cy="560" r="15"/><circle class="G" cx="529" cy="555" r="15"/><circle class="G" cx="579" cy="549" r="15"/><circle class="G" cx="214" cy="589" r="15"/><circle class="G" cx="266" cy="613" r="15"/><circle class="G" cx="319" cy="613" r="15"/><circle class="G" cx="370" cy="589" r="15"/><circle class="G" cx="424" cy="573" r="15"/>
</g>
</g>
<g id="models">
<g id="model-top-1"><circle class="M" cx="290" cy="67" r="7"/></g>
<g id="model-top-2"><circle class="M" cx="307" cy="73" r="7"/></g>
<g id="stable-diffusion-xl-base-1.0"><circle class="M" cx="94" cy="403" r="11.5"/><text class="lbl" x="94" y="431" font-size="11">stable-diffusion-xl-base-1.0</text></g>
<g id="stable-diffusion-2-1"><circle class="M" cx="37" cy="486" r="6"/><text class="lbl" x="39" y="500" font-size="5">stable-diffusion-2-1</text></g>
<g id="bart-large-mnli"><circle class="M" cx="638" cy="260" r="11.5"/><text class="lbl" x="638" y="288" font-size="11.5">bart-large-mnli</text></g>
<g id="bart-large-cnn"><circle class="M" cx="648" cy="299" r="8"/><text class="lbl" x="648" y="318" font-size="7">bart-large-cnn</text></g>
<g id="model-743"><circle class="M" cx="743" cy="194" r="5.5"/></g>
<g id="bart-base-NER"><circle class="M" cx="820" cy="324" r="6"/><text class="lbl" x="820" y="338" font-size="5">bart-base-NER</text></g>
<g id="model-580"><circle class="M" cx="580" cy="378" r="5.5"/></g>
<g id="model-631"><circle class="M" cx="631" cy="420" r="5.5"/></g>
<g id="model-661"><circle class="M" cx="661" cy="448" r="5.5"/></g>
<g id="vit-base-patch16-224"><circle class="M" cx="676" cy="481" r="10"/><text class="lbl" x="677" y="504" font-size="9.2">vit-base-patch16-224</text></g>
<g id="Mistral-7B-v0.1"><circle class="M" cx="778" cy="474" r="6"/><text class="lbl" x="778" y="486" font-size="5" style="fill:#bbb">Mistral-7B-v0.1</text></g>
<g id="model-489"><circle class="M" cx="489" cy="548" r="6"/></g>
<g id="model-639"><circle class="M" cx="639" cy="547" r="5"/></g>
<g id="model-722"><circle class="M" cx="722" cy="522" r="6"/></g>
<g id="model-763"><circle class="M" cx="762" cy="557" r="5"/></g>
<g id="model-877"><circle class="M" cx="877" cy="555" r="5"/></g>
<g id="model-lang-hub"><circle class="M" cx="684" cy="698" r="5"/></g>
</g>
</g>
<g id="legend">
<rect class="M" x="6" y="564" width="30" height="15"/><text class="leg" x="41" y="579">: Models</text>
<rect class="D" x="6" y="583.5" width="30" height="15"/><text class="leg" x="41" y="598.5">: Developers</text>
<rect class="T" x="6" y="603" width="30" height="15"/><text class="leg" x="41" y="618">: Tasks</text>
<rect class="G" x="6" y="622.5" width="30" height="15"/><text class="leg" x="41" y="637.5">: Languages</text>
<rect class="L" x="6" y="642" width="30" height="15"/><text class="leg" x="41" y="657">: License</text>
<rect class="B" x="6" y="661.5" width="30" height="15"/><text class="leg" x="41" y="676.5">: Benchmark</text>
<rect class="E" x="6" y="681" width="30" height="15"/><text class="leg" x="41" y="696">: Metric</text>
<rect class="S" x="6" y="700.5" width="30" height="15"/><text class="leg" x="41" y="715.5">: Score</text>
<rect class="C" x="6" y="720" width="30" height="15"/><text class="leg" x="41" y="735">: Code Block</text>
</g>
<text class="cap" x="534" y="869" text-anchor="middle">Figure 4: Capability Knowledge Graph in use for the M<tspan font-size="19.5">U</tspan>SE Benchmark.</text>
</svg>
